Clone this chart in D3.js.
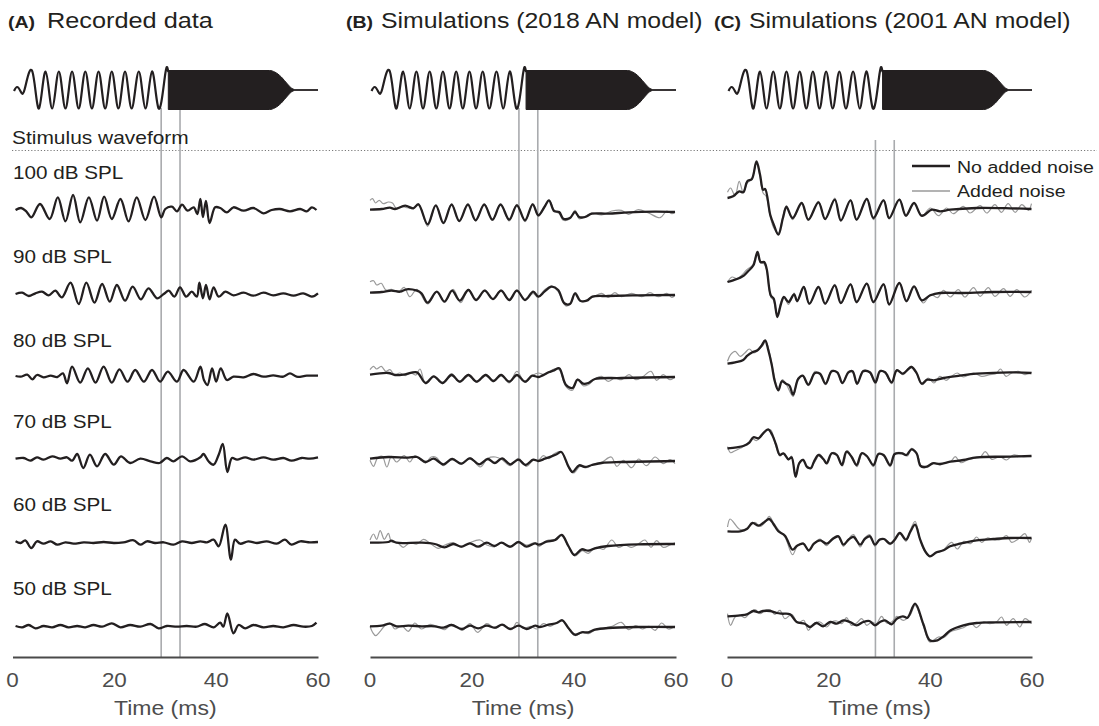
<!DOCTYPE html>
<html><head><meta charset="utf-8">
<script src="https://cdn.jsdelivr.net/npm/d3@7"></script>
<style>body{margin:0;background:#fff}text{font-family:"Liberation Sans",Arial,Helvetica,sans-serif}</style>
</head><body><svg id="chart" width="1099" height="726"></svg>
<script>
// ---------------- DATA ----------------
const levels = ["100 dB SPL","90 dB SPL","80 dB SPL","70 dB SPL","60 dB SPL","50 dB SPL"];
const panelTitles = ["Recorded data","Simulations (2018 AN model)","Simulations (2001 AN model)"];
const panelLetters = ["(A)","(B)","(C)"];
const xTicks = [0,20,40,60];
const markerTimes = [29.2, 32.9];
const legendLabels = ["No added noise","Added noise"];

// stimulus: low tone (time ms, amplitude) and high-frequency burst envelope
const stimTone = [[0.3,-1],[0.9,3],[1.6,-1.5],[2.4,1],[3.9,18.5],[5.2,-18.5],[6.5,18.5],[7.8,-18.5],[9.1,18.5],[10.4,-18.5],[11.7,18.5],[13.0,-18.5],[14.3,18.5],[15.6,-18.5],[16.9,18.5],[18.2,-18.5],[19.5,18.5],[20.8,-18.5],[22.1,18.5],[23.4,-18.5],[24.8,18.5],[26.1,-18.5],[27.4,18.5],[28.7,-18.5],[30.0,16],[30.6,18]];
const stimBurst = [[30.6,19.5],[50.5,19.5],[51.5,18],[52.8,13],[54.0,6],[54.9,1.5],[55.4,0.5]];
const stimTail = [[55.4,0],[60,0]];

// Panel A: recorded data
const rec100 = [[0.6,0],[1.7,2],[2.7,-1.3],[3.7,-7.3],[5.4,6],[7.3,-9],[8.9,12.7],[10.4,-11.3],[11.9,15],[13.3,-12.3],[15.0,12.7],[16.6,-10.7],[18.0,13.3],[19.5,-9],[21.2,11],[22.8,-11.3],[24.4,12.7],[26.1,-10],[27.8,13.3],[29.2,-7.3],[30.0,1],[31.3,3.3],[32.3,-1.3],[33.3,5.3],[34.4,-0.7],[35.6,2.7],[36.3,-4],[36.9,11],[37.4,-7],[38.0,9],[38.7,-13],[39.8,2.7],[40.8,2],[42.1,-2.3],[43.4,2.7],[45.4,-0.7],[47.3,2],[49.3,-3.3],[50.9,0],[52.5,1],[54.5,-1.3],[56.5,1],[57.8,-1.3],[58.8,2.7],[59.7,0]];
const rec90 = [[0.6,0],[1.9,1.3],[3.2,-2],[4.5,0.7],[5.8,2.3],[7.1,-1.3],[8.4,3.3],[9.7,-3.3],[11.4,11.3],[13.0,-10],[14.5,11.3],[16.1,-8.7],[17.6,10],[19.1,-7.7],[20.5,9],[22.1,-6.7],[23.6,7.3],[25.2,-5.3],[26.7,5.7],[28.4,-4.3],[29.7,0],[30.7,3.3],[31.8,-2.7],[32.9,6.7],[34.1,-2.7],[35.2,2.3],[36.2,-2.7],[36.7,11.3],[37.4,-4.3],[38.0,9],[38.7,-5.3],[39.5,6.7],[40.5,-2.7],[41.8,2.3],[43.4,-1.3],[45.4,1.3],[47.3,-1.7],[49.3,1.3],[51.2,-1.3],[53.2,0.7],[55.2,-1.7],[57.1,0.7],[58.8,-2.7],[60.0,0.7]];
const rec80 = [[0.6,0],[1.6,-0.7],[2.9,1.3],[3.9,-3.3],[4.8,1],[6.1,-1.3],[7.5,0.3],[8.8,-1],[9.9,2.7],[10.7,-7.3],[11.7,9.3],[13.3,-6.7],[14.8,7.7],[16.3,-6.7],[17.9,9.3],[19.5,-6.7],[21.0,6.7],[22.6,-5.7],[24.1,6],[25.8,-5.7],[27.4,6],[29.0,-5.7],[30.5,4.3],[32.3,-5.7],[33.6,6],[35.6,-5.7],[36.9,9.3],[37.6,-4],[38.3,-9],[39.2,7.7],[40.0,-5.7],[40.9,7.7],[42.1,-4],[43.4,-0.7],[45.4,-1.3],[47.3,2],[49.3,-0.7],[51.2,0.7],[53.2,-0.7],[54.5,2.7],[55.8,-0.7],[57.8,0.3],[60.0,0.3]];
const rec70 = [[0.6,-0.7],[2.2,0],[3.5,-2.7],[4.8,0.7],[6.1,-1.7],[7.8,1.7],[9.4,-0.7],[10.7,0.7],[11.7,-2.7],[12.7,4],[13.9,-10],[15.2,3.3],[16.6,-8.3],[18.2,4],[19.9,-6.7],[21.3,1.7],[23.1,-5],[25.1,-0.7],[27.1,-3.3],[28.9,-5],[30.3,0],[31.6,-3.3],[33.3,1.7],[34.9,-3.3],[36.9,0.7],[37.5,4],[38.5,-3.3],[39.5,-6.7],[40.5,3.3],[41.3,14],[42.2,-14],[43.1,0],[44.1,-1.7],[45.7,0.7],[47.3,-1.7],[49.3,0.7],[51.2,-1.7],[53.2,0],[54.8,-2.7],[56.8,0],[58.4,-0.7],[60.0,0.7]];
const rec60 = [[0.6,0.7],[1.6,-1],[2.5,1.7],[3.7,-6],[4.8,0.7],[6.1,-1.7],[7.5,0.7],[8.8,-2.7],[10.4,-0.3],[12.0,-1.7],[14.0,-0.3],[15.9,-1],[17.9,0],[19.9,-1],[21.8,-0.3],[23.8,1.7],[25.1,-2.7],[26.4,0.7],[28.0,-1],[29.7,-0.3],[31.6,-2.7],[33.3,0.7],[35.2,-1],[36.9,0.7],[38.2,-0.3],[39.5,2.3],[40.5,-4.3],[41.8,17.3],[42.9,-17.7],[43.7,2.3],[44.7,-1.7],[46.3,0.7],[48.0,-1],[49.9,0.7],[51.9,-1.7],[53.5,2.3],[54.8,-2.7],[56.5,0.7],[58.4,-0.3],[60.0,0]];
const rec50 = [[0.6,0],[1.9,-1.3],[3.2,1],[4.5,-2.3],[6.1,0],[7.8,-1.3],[9.4,1],[11.0,-1.3],[12.7,0],[14.3,-1.3],[15.9,1],[17.6,-0.7],[19.5,2.7],[21.2,-1.3],[23.1,1],[25.1,-0.7],[27.1,2],[28.7,-2.3],[30.3,0],[32.3,-0.7],[34.2,0],[36.2,-0.7],[37.8,2],[39.5,-1.3],[40.8,3.3],[41.4,-0.7],[42.2,12.7],[43.4,-7.3],[44.4,1],[45.7,-2.3],[47.3,1],[49.3,-1.3],[51.2,0],[53.2,-1.3],[55.2,1],[57.1,-0.7],[58.8,0],[59.7,3.3]];

// Panel B: 2018 AN model, no added noise (black) and added noise (grey)
const b18_100 = [[0,2.3],[2.3,3],[3.9,4.3],[4.9,3],[6.9,6.3],[8.5,3.7],[9.5,7.7],[11.3,-12.3],[12.9,6.7],[14.4,-11],[16.0,7.3],[17.5,-9],[19.2,7.3],[20.7,-8.3],[22.4,7.3],[24.0,-7.7],[25.6,7.3],[27.3,-7.7],[28.8,6.7],[30.4,-8.3],[31.9,7.7],[33.0,-3.3],[34.2,5],[35.1,11.7],[36.1,1],[37.1,0],[37.9,-6.7],[39.2,-6],[40.2,0],[41.0,-5],[42.2,-5],[43.5,-1.7],[46.7,-1.7],[50.7,-0.3],[55.9,0.3],[59.8,0]];
const b18n_100 = [[0,11.7],[0.5,13.3],[1.1,9],[1.8,11.7],[2.6,8.3],[3.6,10],[4.4,9],[5.2,3.3],[6.2,5.7],[7.2,4.3],[8.5,4.3],[9.5,8.3],[11.3,-14.3],[12.9,6.7],[14.4,-11.7],[16.0,8.3],[17.5,-9.7],[19.2,8.3],[20.7,-9],[22.4,8.3],[24.0,-8.3],[25.6,8.3],[27.3,-9],[28.8,7.7],[30.4,-9.7],[31.9,8.3],[33.0,-4.3],[35.1,11.7],[36.1,1.7],[37.1,-1.7],[37.9,-8.3],[39.2,-6.7],[40.2,1.7],[41.0,-6.7],[42.2,-4.3],[43.5,-1],[45.4,-3],[47.4,1],[49.3,1.7],[50.7,-2.3],[52.6,2.3],[54.6,-1],[56.9,-5.7],[58.2,1],[59.2,-1.7],[59.8,0]];
const b18_90 = [[0,2.3],[2.3,3],[4.2,4.3],[5.9,3.3],[7.2,5.7],[9.2,4.3],[10.1,1.7],[11.3,-7.7],[13.1,3.3],[14.6,-6.7],[16.1,4.3],[17.6,-5.7],[19.3,5],[20.8,-5],[22.5,4.3],[24.1,-4],[25.7,4.3],[27.3,-5],[28.8,4.3],[30.4,-5],[32.0,3.3],[33.0,-1.7],[34.2,3.3],[35.6,8.3],[36.9,5],[38.1,-8.3],[39.2,-9],[40.2,1.7],[41.2,-5.7],[42.5,-5.7],[43.6,-1.7],[46.7,-1],[52.6,-0.3],[59.8,0]];
const b18n_90 = [[0,13.3],[0.7,14.3],[1.3,10],[2.2,11.7],[3.1,5],[4.2,5.7],[5.6,3.3],[6.7,7.7],[7.8,-1.7],[9.2,5.7],[11.3,-9],[13.1,3.3],[14.6,-6.7],[16.3,5.7],[17.8,-7.7],[19.3,5.7],[20.8,-5.7],[22.5,5],[24.1,-4],[25.7,5],[27.3,-5.7],[28.8,5],[30.4,-5],[32.0,1.7],[32.9,-2.3],[34.2,5],[35.6,9],[36.9,3.3],[38.4,-11],[39.4,-8.3],[40.3,2.3],[41.5,-6.7],[42.8,-4.3],[44.1,-1],[45.4,1.7],[46.7,-2.3],[48.0,2.3],[49.3,-1.7],[51.3,1.7],[53.3,-1.7],[54.9,2.3],[56.5,-1.7],[58.2,1.7],[59.2,-2.3],[59.8,0]];
const b18_80 = [[0,2.3],[3.6,4],[4.9,2],[6.9,2.7],[9.2,4.7],[10.9,-6],[12.5,0.7],[14.2,-6],[16.0,2],[17.6,-4.7],[19.3,2],[20.9,-4.7],[22.7,2],[24.2,-4],[25.7,2],[27.3,-4.7],[28.8,2],[30.4,-4.7],[31.8,1.3],[33.0,0],[35.0,4.7],[36.1,6.7],[37.1,8.7],[38.4,-7.7],[39.7,-11],[40.7,-2.7],[41.8,-6.7],[42.8,-6],[44.1,-2],[49.3,-1],[59.8,0]];
const b18n_80 = [[0,7.3],[0.7,10.7],[1.3,8],[2.2,10.7],[3.1,5.7],[3.9,7.3],[4.8,2.3],[5.9,4],[6.9,1.3],[8.0,4],[9.0,2],[9.8,8],[10.9,-6.7],[12.5,0.7],[14.2,-6.7],[16.0,3.3],[17.6,-5.3],[19.3,2.7],[20.9,-5.3],[22.7,2.7],[24.2,-4.7],[25.7,2.7],[27.3,-6],[28.8,5.7],[30.4,-5.3],[31.8,1.3],[33.0,4],[34.3,2.3],[36.1,8],[37.1,7.3],[38.4,-9.3],[39.7,-13.3],[40.7,-2],[41.8,-8.7],[42.8,-7.7],[44.1,-2],[45.4,0.7],[46.7,-4.3],[48.0,-1],[49.3,-2.7],[50.8,2.3],[52.1,-2.7],[53.4,0],[55.1,5.7],[56.2,-3.3],[57.5,2.3],[58.8,-2.7],[59.8,0]];
const b18_70 = [[0,2.3],[3.6,4],[7.5,3.3],[9.2,4],[10.9,-1],[12.5,2.3],[14.4,-3.3],[16.1,2],[17.9,-2.7],[19.6,2.7],[21.4,-3.3],[23.1,2],[24.5,-2],[25.9,2.7],[27.5,-3.3],[29.1,1.3],[30.5,-4],[32.0,1.3],[33.0,0],[34.3,2.3],[35.6,4.7],[36.6,6.7],[37.5,9],[38.9,-5.3],[39.7,-11],[41.0,-4.3],[42.2,-6],[43.5,-4],[45.4,-2],[49.3,-1],[59.8,0]];
const b18n_70 = [[0,0.7],[0.7,-5.3],[1.5,3.3],[2.4,4.7],[3.3,-6],[4.2,4.7],[5.2,-1],[6.7,5.3],[7.8,-1],[8.8,5.3],[10.1,0.7],[10.9,-2],[12.0,4],[13.1,3.3],[14.4,-4.7],[16.1,2.7],[17.9,-3.3],[19.6,3.3],[21.6,-6],[23.1,2.7],[24.6,4],[25.9,1.3],[27.5,-4.7],[29.1,2.7],[30.7,-5.3],[32.0,0.7],[33.0,0.7],[34.0,5.3],[35.1,2.3],[36.1,7.3],[37.5,9],[38.9,-6],[39.9,-12],[41.2,-5.3],[42.5,-6.7],[43.8,-3.3],[45.4,-1.3],[47.3,4],[48.4,-5.3],[49.7,0.7],[51.3,-6.7],[52.7,2],[54.2,-4.7],[55.9,4],[57.5,-2.7],[58.8,1.3],[59.8,-2.7]];
const b18_60 = [[0,1.3],[3.6,2],[4.2,3.3],[5.2,1.3],[10.1,1.3],[12.7,0],[14.6,-3.3],[16.3,0],[17.9,-2.7],[19.6,0.7],[21.2,-2.7],[22.9,1.3],[24.4,-2],[25.8,1.3],[27.5,-2.7],[29.1,2],[30.7,-2.7],[32.4,0.7],[33.1,-0.7],[34.6,2.3],[36.3,4],[37.6,9],[38.9,-2],[40.1,-11],[41.5,-5.3],[42.8,-6.7],[44.1,-4.3],[46.7,-2],[52.6,-0.3],[59.8,0]];
const b18n_60 = [[0,4],[0.7,10],[1.3,4.7],[2.0,13.3],[2.8,4.7],[3.6,10.7],[4.2,2.3],[5.4,1.3],[6.5,-3.3],[7.8,1.3],[9.2,0],[10.5,4.7],[11.8,0.7],[13.4,-4.3],[14.7,-1],[16.3,1.3],[17.9,-3.3],[19.6,1.3],[21.6,4],[22.9,-1],[24.4,-2.7],[25.8,1.3],[27.5,-3.3],[29.1,2.3],[30.7,-1],[32.4,1.3],[33.1,-2.7],[34.6,3.3],[36.3,4.7],[37.6,9],[38.9,-2.7],[40.2,-12],[41.6,-6.7],[42.8,-9.3],[44.3,-3.3],[45.8,-5.3],[47.4,4],[48.7,-3.3],[50.0,-1],[51.3,-3.3],[52.6,0],[53.9,4],[55.1,-3.3],[56.2,3.3],[57.5,-3.3],[58.8,-1],[59.8,1.3]];
const b18_50 = [[0,0.7],[2.3,1.3],[3.9,3.3],[5.2,0.7],[7.5,1.3],[10.1,0.7],[12.7,0.7],[14.4,-0.7],[16.0,2],[18.0,-2],[19.6,1.3],[21.2,-1.3],[22.9,1.3],[24.5,-0.7],[25.9,2.3],[27.5,-2],[29.1,1.3],[30.7,-2],[32.4,1.3],[33.3,0],[35.0,2.3],[36.6,4],[37.7,6.7],[38.9,-1],[40.2,-7.7],[41.5,-5.3],[42.8,-5.3],[44.1,-2.7],[46.7,-1],[52.6,0],[59.8,0]];
const b18n_50 = [[0,0.7],[0.5,-5.3],[1.1,-8.7],[2.0,-4.3],[2.9,1.3],[3.9,4],[4.9,-2],[6.2,1.3],[7.5,-4.3],[8.8,4],[10.1,-2],[11.8,2.7],[13.4,0],[14.7,-2.7],[15.9,2.7],[17.0,0],[18.1,-3.3],[19.6,3.3],[21.1,-5.3],[22.9,3.3],[24.5,-1.3],[26.1,2.3],[27.8,-2.7],[28.8,4.7],[30.1,-1.3],[31.6,0.7],[32.7,-2],[34.0,3.3],[35.3,0.7],[36.6,4],[37.7,6.7],[39.0,-2],[40.3,-8.7],[41.6,-5.3],[42.8,-6.7],[44.2,-2.7],[45.8,-1],[47.5,0.7],[49.3,4.7],[50.7,-2.7],[52.1,1.3],[53.4,-2],[54.7,0.7],[55.9,-3.3],[57.2,4],[58.5,-2],[59.8,0.7]];

// Panel C: 2001 AN model
const a01_100 = [[0.1,11],[1.2,12.7],[2.4,17.7],[3.2,16.7],[4.0,27.7],[4.9,30],[5.8,47.7],[6.5,34.3],[7.1,19.3],[7.5,20],[8.5,-5.7],[9.2,-15.7],[10.1,-25.7],[11.0,-9],[11.7,2],[12.9,-9],[14.7,6],[16.0,-10.7],[18.0,6.7],[19.3,-10],[21.2,9.3],[22.4,-11.3],[24.3,8.7],[25.5,-10.7],[27.5,10],[28.8,-9],[30.8,8.7],[31.9,-9],[33.9,9.3],[35.2,-6.7],[36.8,6],[38.3,-6.7],[40.3,-0.7],[41.9,-2.3],[43.9,-0.7],[49.1,1],[55.7,0.7],[59.9,0]];
const a01n_100 = [[0.1,16.7],[0.7,21],[1.6,13.3],[2.4,27.7],[3.2,16.7],[4.0,26],[4.9,30],[5.8,46],[6.5,32.7],[7.1,16],[7.7,12.7],[8.5,-7.3],[9.2,-19],[10.1,-24],[11.0,-7.3],[11.7,3.3],[12.9,-10.7],[14.7,6.7],[16.0,-11.3],[18.0,7.7],[19.3,-10.7],[21.2,11],[22.4,-12.3],[24.3,9.3],[25.5,-11.3],[27.5,11],[28.8,-10.7],[30.8,9.3],[31.9,-10],[33.9,10],[35.2,-7.3],[36.8,6],[38.3,-7.3],[40.0,1],[41.6,-6.7],[43.2,1],[44.5,-4.7],[46.5,2.7],[47.8,-4],[49.8,3.3],[51.1,-4],[52.7,4.3],[54.0,-3.3],[55.3,5.3],[56.7,-3.3],[58.0,4.3],[59.3,-1.3],[59.9,5.3]];
const a01_90 = [[0.1,10],[1.2,11.7],[2.6,14.3],[3.3,16.3],[4.2,21],[5.2,26.7],[6.0,40],[6.6,30],[7.3,30],[7.8,23.3],[8.6,-3.3],[9.2,-6.7],[9.9,-25],[10.6,-12.3],[11.2,-5],[12.1,-10],[13.2,-2.3],[13.8,-9],[15.1,5],[16.2,-11.7],[18.0,5],[19.3,-11.7],[21.2,6.7],[22.4,-11],[24.3,7.7],[25.5,-10],[27.5,8.3],[28.8,-10],[30.8,7.7],[31.9,-12.3],[33.9,9],[35.3,-9],[36.8,5.7],[38.3,-8.3],[40.0,-3.3],[41.9,-1],[45.8,-1],[52.4,0],[59.9,0]];
const a01n_90 = [[0.1,10],[1.0,15],[1.9,13.3],[2.9,16.7],[3.9,22.3],[5.0,26.7],[6.0,39],[6.6,29],[7.3,28.3],[7.8,21.7],[8.6,-5],[9.1,-7.7],[9.9,-23.3],[10.6,-10],[11.2,-5],[12.1,-12.3],[13.2,-1],[13.8,-10],[15.1,5.7],[16.2,-12.3],[18.0,5.7],[19.3,-12.3],[21.2,7.7],[22.4,-11.7],[24.3,8.3],[25.5,-11],[27.5,9],[28.8,-11],[30.8,8.3],[31.9,-13.3],[33.9,9.7],[35.3,-10],[36.8,5.7],[38.6,-11],[40.1,-2.3],[41.4,-5.7],[42.6,1.7],[43.9,-5],[45.5,2.3],[46.8,-5],[48.5,4.3],[49.8,-4.3],[51.4,4.3],[52.7,-4.3],[54.4,3.3],[55.7,-4.3],[57.0,2.3],[58.6,-5],[59.9,1.7]];
const a01_80 = [[0.1,9.3],[1.6,10.7],[3.1,12.7],[4.0,17.3],[5.0,20.7],[6.0,22.7],[6.8,27.3],[7.5,32.7],[8.1,23.3],[8.8,8.3],[9.4,-8.3],[10.1,-17.3],[10.8,-8.3],[11.6,-10.7],[12.3,-12.7],[13.0,-21.7],[14.0,-6],[14.9,-2.7],[16.0,-11.7],[17.3,0],[18.3,-0.7],[19.4,-10.7],[20.6,1.7],[21.7,0.7],[22.7,-10],[23.9,0.7],[24.7,1.7],[25.6,-10.7],[26.8,1.7],[28.1,0.7],[29.2,-9.3],[30.1,1.7],[31.1,0.7],[32.4,-9.3],[33.4,2.7],[34.6,-0.7],[35.7,4],[36.3,6],[37.3,0],[38.3,-10.7],[39.4,-6.7],[40.7,-7.3],[42.6,-5],[45.8,-2.7],[49.1,-0.7],[55.7,0.7],[59.9,0]];
const a01n_80 = [[0.1,11.7],[0.7,18.3],[1.6,21.7],[2.6,16.7],[3.5,20],[4.4,24],[5.3,20],[6.2,23.3],[7.0,27.3],[7.6,31.7],[8.3,21.7],[8.9,6.7],[9.6,-10],[10.2,-16.7],[10.9,-6.7],[11.7,-11.7],[13.0,-23.3],[14.0,-5],[14.9,-3.3],[16.0,-12.7],[17.3,1.7],[18.3,-1.7],[19.4,-11.7],[20.6,2.7],[21.7,0],[22.7,-10.7],[23.9,1.7],[24.7,0.7],[25.6,-11.7],[26.8,2.7],[28.1,0],[29.2,-10.7],[30.1,2.7],[31.1,0],[32.4,-10.7],[33.4,3.3],[34.6,-1.7],[35.7,5],[36.3,6.7],[37.3,-0.7],[38.4,-11.7],[39.6,-5],[40.7,-10],[41.9,-3.3],[43.1,-7.3],[44.0,-4],[45.3,0],[46.5,-4],[48.5,0],[50.1,-3.3],[51.7,-1.7],[52.9,-0.7],[53.8,4],[54.9,-3.3],[56.0,0],[57.3,1.7],[58.6,-1.7],[59.9,0.7]];
const a01_70 = [[0.1,7.7],[1.9,8.7],[3.2,10],[4.4,13.3],[5.2,18.7],[6.2,17.7],[7.1,22.7],[8.1,26.7],[8.9,21],[9.6,12],[10.4,1],[11.1,2.7],[12.1,-3.3],[12.7,-1.3],[13.5,-20.7],[14.2,-7.3],[15.0,-4],[15.7,-10.7],[16.5,-12.3],[17.1,-5.7],[18.0,1],[19.0,-3.3],[19.6,-7.3],[20.6,2.7],[21.6,1],[22.6,-9],[23.5,4.3],[24.5,-0.7],[25.5,-9],[26.5,2.7],[27.5,0],[28.8,-9],[29.8,2],[30.8,1],[32.1,-9],[33.0,2],[34.4,2.7],[35.3,1],[36.3,6.7],[37.3,2.7],[38.1,-10],[39.3,-10.7],[40.5,-7.3],[41.9,-8],[43.9,-5.7],[46.5,-4],[49.1,-1.3],[55.7,-0.7],[59.9,0]];
const a01n_70 = [[0.1,9.3],[0.7,3.3],[1.6,5.3],[2.6,7.7],[3.3,10],[4.2,13.3],[4.9,17.7],[5.8,15.3],[6.8,20],[7.8,25.3],[8.6,26],[9.4,14.3],[10.4,0],[11.2,2.7],[12.1,-4],[12.7,0],[13.5,-21.3],[14.2,-6.7],[15.0,-3.3],[15.8,-12.3],[16.6,-10.7],[17.5,-4],[18.2,2],[19.1,-4],[19.7,-8],[20.7,3.3],[21.6,2],[22.7,-10],[23.7,5.3],[24.5,-1.3],[25.6,-10.7],[26.6,3.3],[27.6,-0.7],[28.8,-10.7],[29.8,2.7],[30.8,0],[32.1,-10.7],[33.1,2.7],[34.4,3.3],[35.5,0],[36.3,7.7],[37.4,2],[38.3,-11.3],[39.4,-11.3],[40.5,-6.7],[41.9,-9],[42.9,-6.7],[44.0,-5.7],[44.9,-0.7],[46.0,-6.7],[47.3,-4],[48.5,-2.3],[49.8,-1.3],[50.8,4.3],[52.1,-3.3],[53.7,-0.7],[55.0,-4],[56.3,1],[58.3,-0.7],[59.9,0]];
const a01_60 = [[0.1,6.7],[2.6,6.7],[3.9,9],[5.0,15],[6.2,12.3],[7.1,15],[8.3,19],[9.1,14.3],[10.1,6.7],[11.4,2.3],[12.9,-11.7],[13.8,-7.7],[15.0,-5.7],[16.1,-12.3],[17.1,-5.7],[18.3,-2.3],[19.6,-5.7],[20.8,-1],[21.9,1.7],[22.9,-6.7],[23.9,-1.7],[24.9,1],[26.2,-6.7],[27.1,-1],[28.1,1.7],[29.1,-6.7],[30.0,-1.7],[30.9,-1],[32.1,-5.7],[33.0,-1.7],[34.0,5],[35.2,-1.7],[36.1,6.7],[37.0,13.3],[38.0,-1.7],[39.0,-13.3],[39.9,-18.3],[41.2,-14.3],[42.6,-12.3],[43.9,-8.3],[45.8,-5.7],[49.1,-2.3],[52.4,-1],[55.7,0],[59.9,0]];
const a01n_60 = [[0.1,11],[0.6,19],[1.4,15],[2.4,9],[3.5,8.3],[4.5,12.3],[5.5,15.7],[6.5,11.7],[7.5,15.7],[8.3,21.7],[9.1,15.7],[10.1,8.3],[11.4,1],[12.9,-16.7],[13.8,-8.3],[15.0,-5],[16.1,-13.3],[17.1,-5.7],[18.3,-1],[19.6,-7.7],[20.8,0],[21.9,2.3],[22.9,-8.3],[23.9,-1],[24.9,3.3],[26.2,-9],[27.1,0],[28.1,3.3],[29.1,-8.3],[30.0,-1],[30.9,-1.7],[32.1,-6.7],[33.0,-1],[34.0,5],[35.2,-3.3],[36.1,8.3],[37.0,16.7],[38.0,-1.7],[39.0,-14.3],[39.9,-18.3],[41.2,-15],[42.6,-11.7],[44.2,-4.3],[45.3,-11],[46.6,-3.3],[47.9,-5.7],[49.1,1],[50.1,-4.3],[51.2,0],[52.4,-1.7],[53.7,-1.7],[55.0,2.3],[56.0,-4.3],[57.3,-1],[58.6,4.3],[59.5,-4.3],[59.9,0]];
const a01_50 = [[0.1,5.7],[2.6,6.7],[3.9,7.7],[5.2,11],[6.2,9.7],[7.1,11],[8.5,11],[9.8,9],[10.8,8.3],[12.4,7.7],[13.7,0],[15.3,-1.7],[16.3,-5],[17.6,-1],[18.9,-4.3],[20.3,0],[21.6,-1.7],[22.9,1.7],[24.2,0],[25.5,-3.3],[26.8,0],[28.0,1],[29.1,-3.3],[30.1,0],[31.1,1.7],[32.4,-2.3],[33.4,3.3],[34.6,5.7],[35.5,4.3],[37.0,18.3],[38.6,-1.7],[39.9,-18.3],[41.4,-18.3],[42.6,-14.3],[44.0,-8.3],[46.5,-3.3],[49.1,-1],[52.4,-0.3],[59.9,0]];
const a01n_50 = [[0.1,8.3],[0.7,-3.3],[1.6,5],[2.6,6.7],[3.5,4.3],[4.5,9],[5.5,12.3],[6.5,8.3],[7.5,11.7],[8.5,12.3],[9.4,7.7],[10.4,11.7],[11.4,3.3],[12.7,7.7],[14.0,-1],[15.1,1.7],[16.0,-8.3],[17.0,-1.7],[18.3,0],[19.6,-5],[20.6,0],[21.6,1],[22.6,-1.7],[23.5,4.3],[24.5,-3.3],[25.5,-1],[26.5,3.3],[27.5,-3.3],[28.5,0],[29.4,-1.7],[30.4,5.7],[31.4,-1],[32.4,0],[33.4,5.7],[34.7,1.7],[36.0,6.7],[37.0,16.7],[38.6,-3.3],[39.9,-20],[41.6,-15],[42.6,-15.7],[43.9,-10],[45.2,-7.7],[46.5,-5.7],[48.1,-1.7],[49.1,-5.7],[50.4,0],[51.7,-1.7],[53.0,0],[54.0,5],[55.0,-3.3],[56.3,3.3],[57.6,-5],[58.6,3.3],[59.9,-1.7]];

// ---------------- LAYOUT ----------------
const svg = d3.select("#chart");
const ink = "#231f20", greyTrace = "#9a9a9a", markerGrey = "#a9abae", axisInk = "#4a4a4a";
const SX = 1.15; // horizontal stretch of lettering in the original figure

const panels = [
  {range:[12.5,318], rows:[210,294,376,458,542,626], black:[rec100,rec90,rec80,rec70,rec60,rec50], grey:null, markTop:108, title:[8,47]},
  {range:[370,676], rows:[212,295,377,461,544,627], black:[b18_100,b18_90,b18_80,b18_70,b18_60,b18_50], grey:[b18n_100,b18n_90,b18n_80,b18n_70,b18n_60,b18n_50], markTop:108, title:[346,381]},
  {range:[727,1032], rows:[209,292,373,456,538,622], black:[a01_100,a01_90,a01_80,a01_70,a01_60,a01_50], grey:[a01n_100,a01n_90,a01n_80,a01n_70,a01n_60,a01n_50], markTop:140, title:[714,749]}
];
const stimY = 90, axisY = 657;
const amp = d3.scaleLinear().domain([-10,10]).range([10,-10]);

function stretchedText(g, x, y, str, size, weight, fill){
  return g.append("text").attr("transform",`translate(${x},${y}) scale(${SX},1)`)
    .attr("font-size",size).attr("font-weight",weight||"normal").attr("fill",fill||ink).text(str);
}

// dotted separator
svg.append("line").attr("x1",12).attr("x2",1097).attr("y1",150.5).attr("y2",150.5)
  .attr("stroke","#7a7a7a").attr("stroke-width",1).attr("stroke-dasharray","1.2,2");

panels.forEach((p,pi)=>{
  const g = svg.append("g");
  const x = d3.scaleLinear().domain([0,60]).range(p.range);

  // title
  stretchedText(g, p.title[0], 28, panelLetters[pi], 17, "bold");
  stretchedText(g, p.title[1], 28, panelTitles[pi], pi===0 ? 22 : 21.6);

  // marker lines
  markerTimes.forEach(t=>{
    g.append("line").attr("x1",x(t)).attr("x2",x(t)).attr("y1",p.markTop).attr("y2",axisY)
      .attr("stroke",markerGrey).attr("stroke-width",1.6);
  });

  // stimulus
  const sLine = d3.line().x(d=>x(d[0])).y(d=>stimY+amp(d[1])).curve(d3.curveNatural);
  g.append("path").attr("d",sLine(stimTone)).attr("fill","none").attr("stroke",ink).attr("stroke-width",2.2);
  const sArea = d3.area().x(d=>x(d[0])).y0(d=>stimY+amp(-d[1])).y1(d=>stimY+amp(d[1])).curve(d3.curveMonotoneX);
  g.append("path").attr("d",sArea(stimBurst)).attr("fill",ink).attr("stroke",ink).attr("stroke-width",1);
  g.append("path").attr("d",d3.line().x(d=>x(d[0])).y(d=>stimY+amp(d[1]))(stimTail)).attr("stroke",ink).attr("stroke-width",1.8).attr("fill","none");

  // traces
  p.rows.forEach((ry,ri)=>{
    const line = d3.line().x(d=>x(d[0])).y(d=>ry+amp(d[1])).curve(d3.curveCatmullRom.alpha(0.5));
    if(p.grey){
      g.append("path").attr("d",line(p.grey[ri])).attr("fill","none").attr("stroke",greyTrace).attr("stroke-width",1.2);
    }
    g.append("path").attr("d",line(p.black[ri])).attr("fill","none").attr("stroke",ink)
      .attr("stroke-width",2.3).attr("stroke-linejoin","round");
  });

  // axis
  const ax = g.append("g").attr("transform",`translate(0,${axisY})`)
    .call(d3.axisBottom(x).tickValues(xTicks).tickSize(0).tickSizeOuter(0).tickPadding(0).tickFormat(d3.format("d")));
  ax.select(".domain").attr("stroke",axisInk).attr("stroke-width",2);
  ax.selectAll(".tick text").remove();
  xTicks.forEach(t=>{
    g.append("text").attr("transform",`translate(${x(t)},687) scale(${SX},1)`).attr("text-anchor","middle")
      .attr("font-size",19.5).attr("fill","#4d4d4d").text(t);
  });
  g.append("text").attr("transform",`translate(${(p.range[0]+p.range[1])/2},715) scale(${SX},1)`).attr("text-anchor","middle")
    .attr("font-size",20).attr("fill","#4d4d4d").text("Time (ms)");
});

// row labels (panel A)
const labelBase = [179,263,347,428,511,595];
levels.forEach((l,i)=> stretchedText(svg, 13, labelBase[i], l, 18, "normal"));
stretchedText(svg, 12, 144, "Stimulus waveform", 18.2, "normal");

// legend
const lg = svg.append("g");
lg.append("line").attr("x1",912).attr("x2",950).attr("y1",166).attr("y2",166).attr("stroke",ink).attr("stroke-width",2.6);
lg.append("line").attr("x1",912).attr("x2",950).attr("y1",191).attr("y2",191).attr("stroke",greyTrace).attr("stroke-width",1.5);
stretchedText(lg, 957, 173, legendLabels[0], 17, "normal");
stretchedText(lg, 957, 197, legendLabels[1], 17, "normal");
</script></body></html>
